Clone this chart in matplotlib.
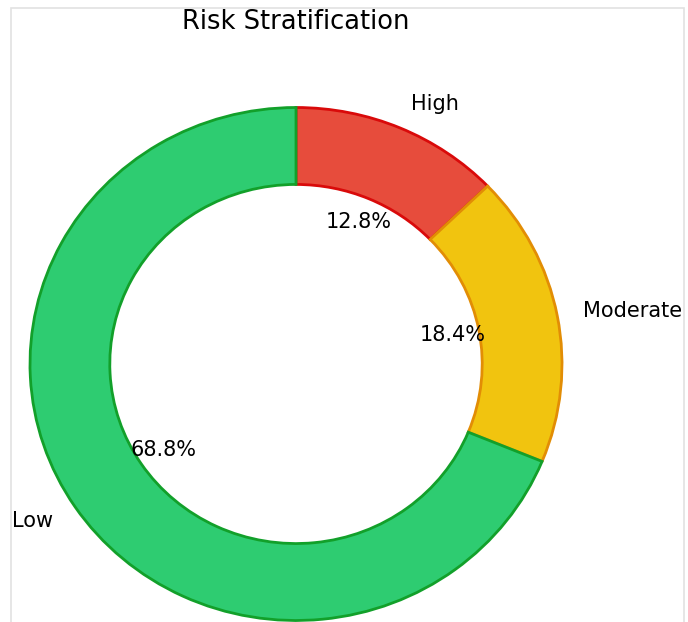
#!/usr/bin/env python3

import matplotlib
matplotlib.use('Agg')
import matplotlib.pyplot as plt
from matplotlib.patches import Rectangle


# Data.
labels = ['High', 'Moderate', 'Low']
shares = [12.8, 18.4, 68.8]

# Styles.
colors = ['#e74c3c', '#f1c40f', '#2ecc71']
edgecolors = ['#d90a0a', '#e28d05', '#12a02a']

W, H = 688, 622
fig = plt.figure(figsize=(W / 100, H / 100), dpi=100, facecolor='white')

# Thin light frame round the chart.
fig.add_artist(Rectangle((11 / W, -0.05), 673 / W, 1.05 - 8 / H,
                         transform=fig.transFigure, fill=False,
                         edgecolor='#e2e2e2', linewidth=1.2))

# Axes box for the unit circle: 532 px wide, 513 px tall, centred at (296, 364).
cx, cy, rx, ry = 296, H - 364, 266, 256.5
ax = fig.add_axes(((cx - rx) / W, (cy - ry) / H, 2 * rx / W, 2 * ry / H))

wedges, texts, autotexts = ax.pie(
    shares, labels=labels, colors=colors, autopct='%1.1f%%',
    startangle=90, counterclock=False, pctdistance=0.6, labeldistance=1.1,
    wedgeprops=dict(width=0.3, linewidth=2), textprops=dict(fontsize=15),
    frame=False)

for w, ec in zip(wedges, edgecolors):
    w.set_edgecolor(ec)
    w.set_clip_on(False)

ax.set_xlim(-1, 1)
ax.set_ylim(-1, 1)
ax.set_aspect('auto')

fig.text(cx / W, 1 - 22 / H, 'Risk Stratification', fontsize=18.5,
         ha='center', va='center')

fig.savefig('out.png', dpi=100, facecolor='white')
